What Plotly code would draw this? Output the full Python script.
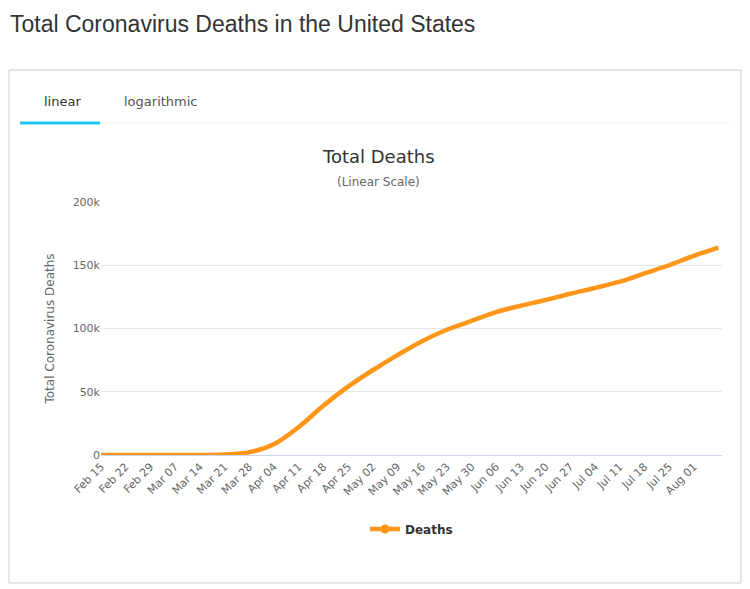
import plotly.graph_objects as go
import pandas as pd

dates = pd.date_range("2020-02-15", "2020-08-08", freq="7D").strftime("%Y-%m-%d").tolist()
deaths = [0, 0, 1, 17, 57, 330, 2200, 8500, 22000, 39000, 54000, 67000, 79000, 90000,
          99000, 106000, 113000, 118000, 122500, 127500, 132000, 137000, 143500, 150000, 157500, 164000]
tickvals = pd.date_range("2020-02-15", "2020-08-01", freq="7D")
ticktext = tickvals.strftime("%b %d").tolist()

OFF = 8  # page body margin
W, H = 750, 589
L, R, T, B = 101 - OFF, 28 + OFF, 202 - OFF, 134 + OFF
pw, ph = W - L - R, H - T - B
def px(x): return (x - OFF - L) / pw
def py(y): return (H - B - (y - OFF)) / ph

color = "#FF9619"
fig = go.Figure()
fig.add_trace(go.Scatter(x=dates, y=deaths, mode="lines", name="Deaths", showlegend=False,
                         line=dict(color=color, width=4.5, shape="spline")))
fig.add_trace(go.Scatter(x=[None], y=[None], mode="lines+markers", name="Deaths",
                         line=dict(color=color, width=4.5), marker=dict(size=9, color=color)))
shapes = [
    dict(type="rect", xref="paper", yref="paper", x0=px(9), x1=px(741), y0=py(70), y1=py(583),
         line=dict(color="#cccccc", width=1), layer="below"),
    dict(type="line", xref="paper", yref="paper", x0=px(20), x1=px(730), y0=py(123), y1=py(123),
         line=dict(color="#eeeeee", width=1)),
    dict(type="line", xref="paper", yref="paper", x0=px(20), x1=px(100), y0=py(123), y1=py(123),
         line=dict(color="#1EC8F0", width=3)),
]
ann = [
    dict(text="Total Coronavirus Deaths in the United States", x=px(8), y=py(24), xanchor="left",
         font=dict(size=23, color="#333333", family="Liberation Sans")),
    dict(text="linear", x=px(62), y=py(101), font=dict(size=13, color="#333333")),
    dict(text="logarithmic", x=px(161), y=py(101), font=dict(size=13, color="#555555")),
    dict(text="Total Deaths", x=px(378), y=py(156), font=dict(size=18, color="#333333")),
    dict(text="(Linear Scale)", x=px(378), y=py(182), font=dict(size=12, color="#666666")),
]
for a in ann:
    a.update(xref="paper", yref="paper", showarrow=False, yanchor="middle")
    a.setdefault("xanchor", "center")
fig.update_layout(
    width=W, height=H, margin=dict(l=L, r=R, t=T, b=B),
    paper_bgcolor="white", plot_bgcolor="white",
    font=dict(family="DejaVu Sans", size=11, color="#666666"),
    shapes=shapes, annotations=ann,
    xaxis=dict(tickvals=tickvals, ticktext=ticktext, tickangle=-45, showgrid=False,
               range=["2020-02-15", "2020-08-09"], showline=True, linecolor="#ccd6eb",
               ticks="", tickfont=dict(size=11)),
    yaxis=dict(range=[0, 200000], tickvals=[0, 50000, 100000, 150000, 200000],
               ticktext=["0", "50k", "100k", "150k", "200k"], gridcolor="#e6e6e6",
               zeroline=False, title=dict(text="Total Coronavirus Deaths", font=dict(size=12))),
    showlegend=True,
    legend=dict(orientation="h", x=0.5, xanchor="center", y=py(529), yanchor="middle",
                font=dict(size=12, color="#333333", weight="bold")),
)
fig.write_html("out.html")
